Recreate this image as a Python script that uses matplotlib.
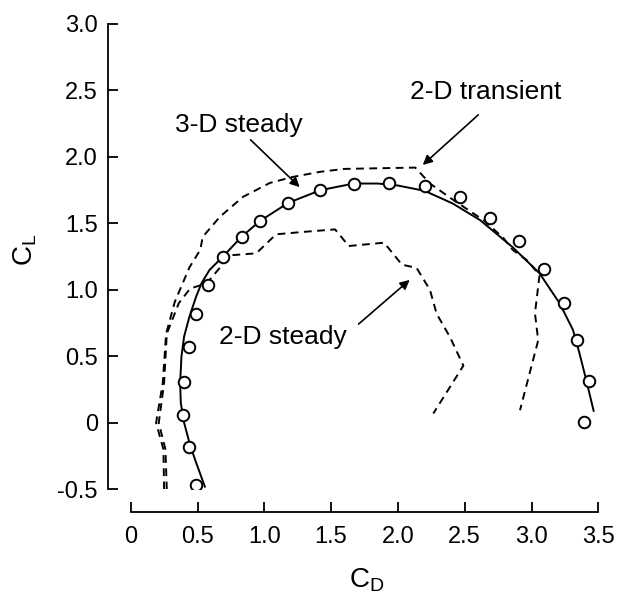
import matplotlib
matplotlib.use("Agg")
import matplotlib.pyplot as plt

plt.rcParams['font.family'] = ['Liberation Sans', 'DejaVu Sans']
plt.rcParams['mathtext.fontset'] = 'custom'
plt.rcParams['mathtext.rm'] = 'Liberation Sans'
plt.rcParams['mathtext.it'] = 'Liberation Sans'

# Measured points (3-D steady, circles)
meas_cd = [0.49, 0.44, 0.39, 0.40, 0.435, 0.49, 0.58, 0.69, 0.83, 0.97, 1.18, 1.42,
           1.67, 1.93, 2.20, 2.465, 2.69, 2.91, 3.09, 3.24, 3.34, 3.43, 3.39]
meas_cl = [-0.47, -0.18, 0.06, 0.31, 0.57, 0.82, 1.04, 1.25, 1.40, 1.52, 1.655, 1.75,
           1.80, 1.805, 1.785, 1.70, 1.54, 1.37, 1.155, 0.90, 0.62, 0.313, 0.005]

# 3-D steady (solid)
s3_cd = [0.555, 0.49, 0.445, 0.40, 0.375, 0.37, 0.38, 0.40, 0.44, 0.49, 0.53, 0.59,
         0.69, 0.83, 0.97, 1.18, 1.42, 1.67, 1.85, 2.00, 2.20, 2.41, 2.615, 2.86,
         3.06, 3.21, 3.31, 3.36, 3.41, 3.465]
s3_cl = [-0.48, -0.30, -0.17, 0.00, 0.15, 0.30, 0.50, 0.65, 0.80, 0.95, 1.05, 1.15,
         1.25, 1.40, 1.52, 1.655, 1.75, 1.80, 1.80, 1.785, 1.745, 1.65, 1.525, 1.32,
         1.125, 0.90, 0.70, 0.52, 0.32, 0.09]

# 2-D transient (outer dashed)
tr_cd = [0.25, 0.245, 0.19, 0.24, 0.265, 0.33, 0.44, 0.52, 0.54, 0.668, 0.841,
         1.043, 1.215, 1.417, 1.60, 2.13, 2.24, 2.41, 2.647, 2.79, 2.86, 2.97,
         3.06, 3.026, 3.05, 2.914]
tr_cl = [-0.50, -0.20, 0.00, 0.30, 0.67, 0.91, 1.17, 1.30, 1.40, 1.55, 1.70,
         1.805, 1.85, 1.888, 1.91, 1.92, 1.80, 1.68, 1.52, 1.39, 1.30, 1.22,
         1.11, 0.824, 0.62, 0.095]

# 2-D steady (inner dashed)
st_cd = [0.27, 0.26, 0.21, 0.25, 0.27, 0.36, 0.445, 0.57, 0.67, 0.743, 0.94,
         1.088, 1.29, 1.53, 1.632, 1.897, 2.03, 2.14, 2.24, 2.29, 2.39, 2.49, 2.265]
st_cl = [-0.50, -0.20, 0.00, 0.30, 0.67, 0.90, 1.01, 1.05, 1.17, 1.26, 1.275,
         1.418, 1.436, 1.455, 1.33, 1.355, 1.19, 1.165, 1.00, 0.82, 0.645, 0.43, 0.07]

xticks = [0, 0.5, 1.0, 1.5, 2.0, 2.5, 3.0, 3.5]
xtick_labels = ['0', '0.5', '1.0', '1.5', '2.0', '2.5', '3.0', '3.5']
yticks = [-0.5, 0, 0.5, 1.0, 1.5, 2.0, 2.5, 3.0]
ytick_labels = ['-0.5', '0', '0.5', '1.0', '1.5', '2.0', '2.5', '3.0']

fig = plt.figure(figsize=(6.17, 6.02), dpi=100)
ax = fig.add_axes([130.7 / 617, 1 - 489.3 / 602, (598.3 - 130.7) / 617, (489.3 - 24) / 602])

lw = 1.4
dash = (0, (4, 2.8))
ax.plot(s3_cd, s3_cl, color='black', lw=lw, solid_joinstyle='round')
ax.plot(tr_cd, tr_cl, color='black', lw=lw, linestyle=dash)
ax.plot(st_cd, st_cl, color='black', lw=lw, linestyle=dash)
ax.plot(meas_cd, meas_cl, linestyle='none', marker='o', ms=8.3, mfc='white',
        mec='black', mew=1.4, zorder=5)

ax.set_xlim(0, 3.5)
ax.set_ylim(-0.5, 3.0)
ax.set_xticks(xticks)
ax.set_xticklabels(xtick_labels)
ax.set_yticks(yticks)
ax.set_yticklabels(ytick_labels)

for side in ['top', 'right']:
    ax.spines[side].set_visible(False)
off_pt = 23 * 72 / 100  # 23 px
ax.spines['left'].set_position(('outward', off_pt))
ax.spines['bottom'].set_position(('outward', off_pt))
for side in ['left', 'bottom']:
    ax.spines[side].set_linewidth(1.3)
ax.tick_params(direction='in', length=7, width=1.3, labelsize=17)
ax.tick_params(axis='y', pad=7)
ax.tick_params(axis='x', pad=10)

fig.text(367 / 617, 1 - 580 / 602, r'$\mathrm{C_D}$', fontsize=20, ha='center', va='center')
fig.text(25 / 617, 1 - 250 / 602, r'$\mathrm{C_L}$', fontsize=20, ha='center', va='center',
         rotation=90)

ap = dict(arrowstyle='-|>', color='black', lw=1.2, mutation_scale=14, shrinkA=0, shrinkB=0)
ax.annotate('', xy=(1.265, 1.773), xytext=(0.897, 2.129), arrowprops=ap)
ax.text(0.33, 2.244, '3-D steady', fontsize=19, ha='left', va='center')
ax.annotate('', xy=(2.186, 1.94), xytext=(2.602, 2.317), arrowprops=ap)
ax.text(2.09, 2.488, '2-D transient', fontsize=19, ha='left', va='center')
ax.annotate('', xy=(2.088, 1.075), xytext=(1.706, 0.743), arrowprops=ap)
ax.text(0.66, 0.642, '2-D steady', fontsize=19, ha='left', va='center')

fig.savefig('out.png', dpi=100)
